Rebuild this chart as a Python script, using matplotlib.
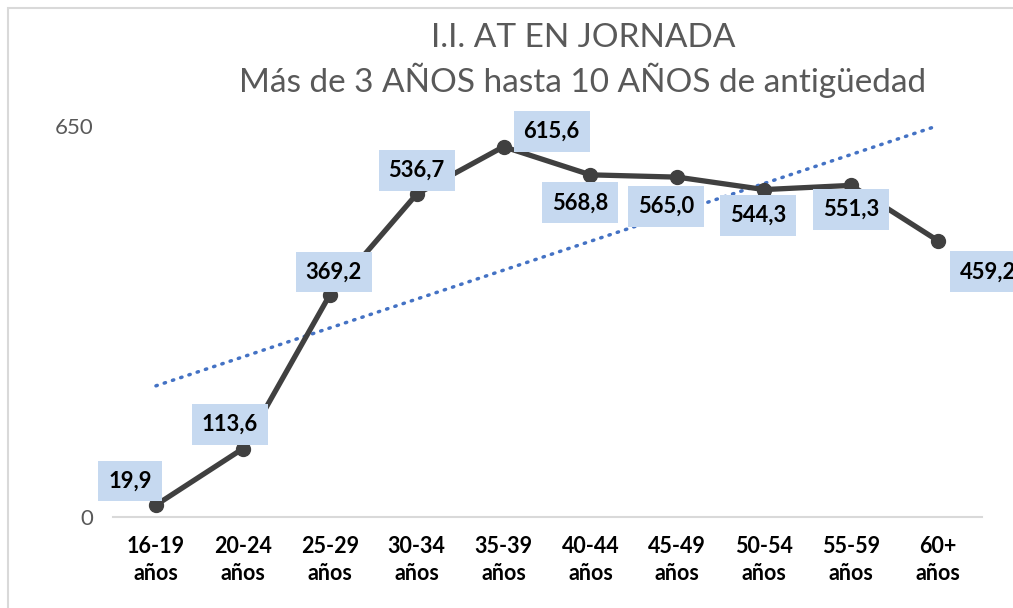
import numpy as np
import matplotlib.pyplot as plt
from matplotlib.patches import Rectangle

plt.rcParams['font.family'] = ['Lato', 'DejaVu Sans']

# data
categories = ['16-19\naños', '20-24\naños', '25-29\naños', '30-34\naños', '35-39\naños',
              '40-44\naños', '45-49\naños', '50-54\naños', '55-59\naños', '60+\naños']
values = [19.9, 113.6, 369.2, 536.7, 615.6, 568.8, 565.0, 544.3, 551.3, 459.2]
# label offsets in pixels (dx, dy) relative to each point
label_offsets = [(-26, 24), (-13, 24), (4, 23), (0, 24), (48, 15),
                 (-10, -28), (-11, -29), (-6, -26), (0, -24), (50, -31)]

fig = plt.figure(figsize=(10.13, 6.08), dpi=100)
# outer chart frame
fig.patches.append(Rectangle((8 / 1013, -0.1), 1.2, (608 - 8) / 608 + 0.1,
                             transform=fig.transFigure, fill=False,
                             edgecolor='#D9D9D9', linewidth=1.5))

ax = fig.add_axes([112.5 / 1013, 91 / 608, 869 / 1013, 391 / 608])
x = np.arange(len(values))

# trendline (linear fit)
coef = np.polyfit(x, values, 1)
ax.plot(x, np.polyval(coef, x), color='#4472C4', linewidth=2.5,
        linestyle=(0, (0.4, 2.1)), dash_capstyle='round', clip_on=False, zorder=2)

ax.plot(x, values, color='#404040', linewidth=3.8, marker='o', markersize=10,
        clip_on=False, zorder=3)

for xi, v, (dx, dy) in zip(x, values, label_offsets):
    ax.annotate(f'{v:.1f}'.replace('.', ','), (xi, v), xytext=(dx, dy),
                textcoords='offset pixels', ha='center', va='center',
                fontsize=15.8, fontweight='bold', color='black', zorder=4,
                annotation_clip=False,
                bbox=dict(boxstyle='square,pad=0.45', facecolor='#C6D9F0',
                          edgecolor='none'))

ax.set_xlim(-0.5, len(values) - 0.5)
ax.set_ylim(0, 650)
ax.set_yticks([0, 650])
ax.set_yticklabels(['0', '650'], color='#595959', fontsize=16)
ax.set_xticks(x)
ax.set_xticklabels(categories, fontsize=15.5, fontweight='bold', linespacing=1.35)
ax.tick_params(axis='both', length=0)
ax.tick_params(axis='y', pad=14)
ax.tick_params(axis='x', pad=14)
for s in ['top', 'right', 'left']:
    ax.spines[s].set_visible(False)
ax.spines['bottom'].set_color('#D9D9D9')
ax.spines['bottom'].set_linewidth(1.5)

fig.text(583 / 1013, 1 - 38 / 608, 'I.I. AT EN JORNADA', ha='center', va='center',
         fontsize=24, color='#595959')
fig.text(583 / 1013, 1 - 80 / 608, 'Más de 3 AÑOS hasta 10 AÑOS de antigüedad',
         ha='center', va='center', fontsize=24, color='#595959')

fig.savefig('out.png', dpi=100)
